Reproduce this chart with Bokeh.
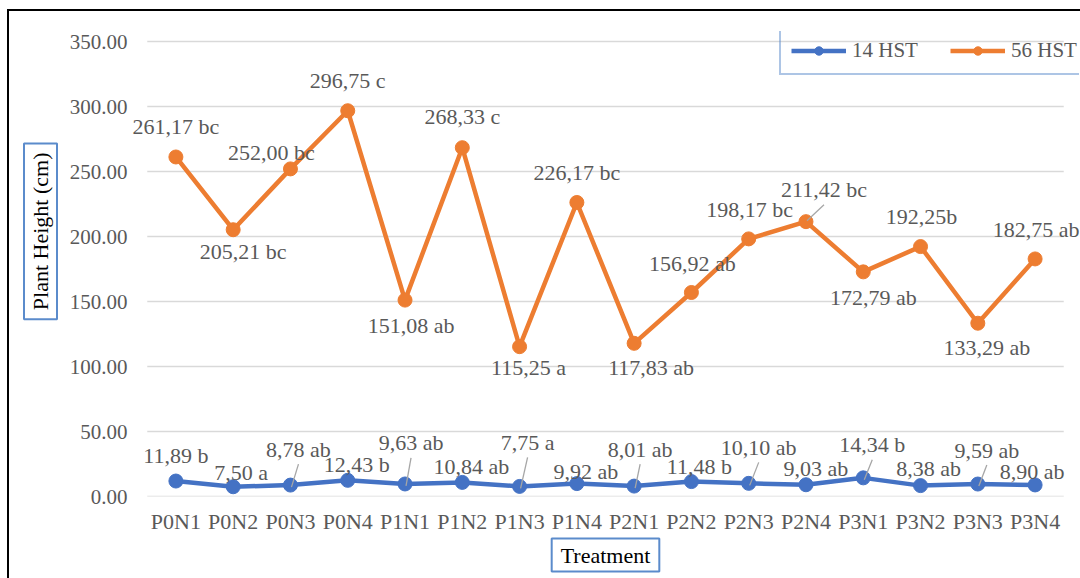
import math
from bokeh.plotting import figure
from bokeh.models import (ColumnDataSource, LabelSet, Legend, LegendItem, FactorRange,
                          Range1d, NumeralTickFormatter, FixedTicker, Title)
from bokeh.core.properties import value
from bokeh.embed import file_html
from bokeh.resources import INLINE

# ---------------- data ----------------
categories = ["P0N1", "P0N2", "P0N3", "P0N4", "P1N1", "P1N2", "P1N3", "P1N4",
              "P2N1", "P2N2", "P2N3", "P2N4", "P3N1", "P3N2", "P3N3", "P3N4"]
hst14 = [11.89, 7.50, 8.78, 12.43, 9.63, 10.84, 7.75, 9.92,
         8.01, 11.48, 10.10, 9.03, 14.34, 8.38, 9.59, 8.90]
hst56 = [261.17, 205.21, 252.00, 296.75, 151.08, 268.33, 115.25, 226.17,
         117.83, 156.92, 198.17, 211.42, 172.79, 192.25, 133.29, 182.75]
labels14 = ["11,89 b", "7,50 a", "8,78 ab", "12,43 b", "9,63 ab", "10,84 ab", "7,75 a", "9,92 ab",
            "8,01 ab", "11,48 b", "10,10 ab", "9,03 ab", "14,34 b", "8,38 ab", "9,59 ab", "8,90 ab"]
labels56 = ["261,17 bc", "205,21 bc", "252,00 bc", "296,75 c", "151,08 ab", "268,33 c", "115,25 a", "226,17 bc",
            "117,83 ab", "156,92 ab", "198,17 bc", "211,42 bc", "172,79 ab", "192,25b", "133,29 ab", "182,75 ab"]
series_names = ["14 HST", "56 HST"]
y_ticks = [0, 50, 100, 150, 200, 250, 300, 350]
x_title = "Treatment"
y_title = "Plant Height (cm)"

# ---------------- styles / layout ----------------
OX, OY = 9, 11                 # canvas origin on the page (margin + border)
ML, MT, MB = 122, 20, 82
FONT = "Liberation Serif"
FS = "22px"
FS_TICK = "21px"
BLUE = "#4472C4"
ORANGE = "#ED7D31"
TXT = "#595959"
GRID = "#D9D9D9"
BOXBLUE = "#5B8BCB"

PXC = 57.28                    # pixels per category
PXU = 1.3                      # pixels per data unit
FRAME_W, FRAME_H = 948, 465
pad_side = (FRAME_W / PXC - len(categories)) / 2
y_end = FRAME_H / PXU

# label offsets in pixels (right, up) relative to each point
dx14 = [0, 8, 8, 9, 6, 9, 8, 9, 6, 8, 10, 10, 9, 8, 9, -3]
dy14 = [26, 14, 36, 16, 41, 16, 44, 12, 37, 15, 36, 16, 33, 17, 34, 13]
lead14 = [0, 0, 1, 0, 1, 0, 1, 0, 1, 0, 1, 0, 1, 0, 1, 0]
dx56 = [0, 10, -19, 0, 6, 0, 9, 0, 17, 1, 1, 18, 10, 1, 9, 1]
dy56 = [30, -22, 16, 30, -25, 31, -21, 30, -24, 29, 29, 32, -26, 30, -24, 29]
lead56 = [0, 0, 0, 0, 0, 0, 0, 0, 0, 0, 0, 1, 0, 0, 0, 0]

xr = FactorRange(*categories, factor_padding=0, range_padding=pad_side,
                 range_padding_units="absolute")
p = figure(frame_width=FRAME_W, frame_height=FRAME_H, x_range=xr, y_range=Range1d(0, y_end),
           output_backend="svg", toolbar_location=None,
           min_border_left=ML, min_border_right=1, min_border_top=MT, min_border_bottom=MB)
p.margin = (OY - 2, 0, 0, OX - 2)
p.styles = {"border-top": "2px solid black", "border-left": "2px solid black"}
p.outline_line_color = None
p.background_fill_color = "white"
p.border_fill_color = "white"

# axes
p.yaxis.ticker = FixedTicker(ticks=y_ticks)
p.yaxis.formatter = NumeralTickFormatter(format="0.00")
for ax in (p.xaxis[0], p.yaxis[0]):
    ax.axis_line_color = None
    ax.major_tick_line_color = None
    ax.minor_tick_line_color = None
    ax.major_tick_out = 0
    ax.major_tick_in = 0
    ax.major_label_text_font = FONT
    ax.major_label_text_color = TXT
p.yaxis.major_label_text_font_size = FS_TICK
p.xaxis.major_label_text_font_size = FS
p.yaxis.major_label_standoff = 4
p.xaxis.major_label_standoff = 12
p.xgrid.grid_line_color = None
p.ygrid.grid_line_color = None

# horizontal gridlines spanning the category area only
p.segment(x0=[0] * len(y_ticks), y0=y_ticks, x1=[len(categories)] * len(y_ticks), y1=y_ticks,
          line_color=GRID, line_width=1.5)

renderers = []
for vals, col in ((hst14, BLUE), (hst56, ORANGE)):
    src = ColumnDataSource(dict(x=categories, y=vals))
    ln = p.line("x", "y", source=src, line_color=col, line_width=4.5, line_join="round")
    sc = p.scatter("x", "y", source=src, size=14, fill_color=col, line_color=col)
    renderers.append([ln, sc])

# leader lines
for vals, dxs, dys, leads, end_dy in ((hst14, dx14, dy14, lead14, -2), (hst56, dx56, dy56, lead56, 1)):
    x0, y0, x1, y1 = [], [], [], []
    for i, v in enumerate(vals):
        if leads[i]:
            x0.append(i + 0.5 + dxs[i] / PXC)
            y0.append(v + (dys[i] - 15) / PXU)
            x1.append(i + 0.5 + 1 / PXC)
            y1.append(v + end_dy / PXU)
    if x0:
        p.segment(x0, y0, x1, y1, line_color="#A6A6A6", line_width=1.3)

# data labels
for vals, texts, dxs, dys in ((hst14, labels14, dx14, dy14), (hst56, labels56, dx56, dy56)):
    lsrc = ColumnDataSource(dict(x=categories, y=vals, t=texts, dx=dxs, dy=dys))
    p.add_layout(LabelSet(x="x", y="y", text="t", source=lsrc, x_offset="dx", y_offset="dy",
                          text_align="center", text_baseline="middle", text_font=value(FONT),
                          text_font_size=value(FS), text_color=TXT))

# legend
legend = Legend(items=[LegendItem(label=series_names[0], renderers=renderers[0]),
                       LegendItem(label=series_names[1], renderers=renderers[1])],
                orientation="horizontal", location=(779 - OX - ML, 496 - 75),
                label_text_font=FONT, label_text_font_size=FS_TICK, label_text_color=TXT,
                glyph_width=55, glyph_height=21, label_height=21, label_width=80,
                label_standoff=6, spacing=18, padding=10, margin=0,
                border_line_color=BOXBLUE, border_line_width=2, background_fill_alpha=0)
p.add_layout(legend, "center")

# axis titles in boxes
p.add_layout(Title(text=y_title, align="right", offset=112, standoff=7, vertical_align="middle",
                   text_font=FONT, text_font_size=FS, text_font_style="normal", text_color="black",
                   border_line_color=BOXBLUE, border_line_width=2, background_fill_color="white",
                   padding=(9, 4)), "left")
p.add_layout(Title(text=x_title, align="center", standoff=0, text_font=FONT, text_font_size=FS,
                   text_font_style="normal", text_color="black", border_line_color=BOXBLUE,
                   border_line_width=2, background_fill_color="white", padding=(9, 4)), "below")

open("out.html", "w").write(file_html(p, INLINE))
